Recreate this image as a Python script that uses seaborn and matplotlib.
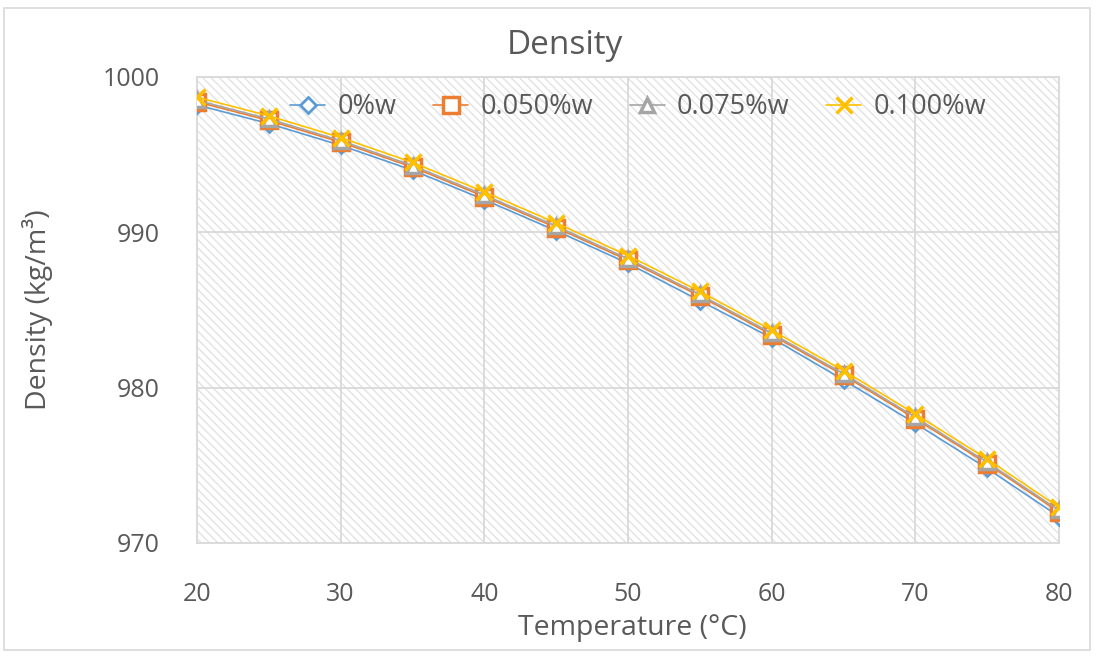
import matplotlib
matplotlib.use("Agg")
import matplotlib.pyplot as plt
import seaborn as sns
import pandas as pd
from matplotlib.patches import Rectangle

temperature = [20, 25, 30, 35, 40, 45, 50, 55, 60, 65, 70, 75, 80]
dens_0 = [998.2, 997.0, 995.6, 994.0, 992.1, 990.1, 988.0, 985.6, 983.2, 980.5, 977.7, 974.8, 971.7]
dens_050 = [998.4, 997.2, 995.8, 994.2, 992.3, 990.3, 988.2, 985.9, 983.4, 980.8, 978.0, 975.1, 972.0]
dens_075 = [998.5, 997.3, 995.9, 994.3, 992.4, 990.4, 988.3, 986.0, 983.5, 980.9, 978.1, 975.2, 972.1]
dens_100 = [998.7, 997.5, 996.1, 994.5, 992.6, 990.6, 988.5, 986.2, 983.7, 981.1, 978.3, 975.4, 972.3]
series_names = ["0%w", "0.050%w", "0.075%w", "0.100%w"]
series_vals = [dens_0, dens_050, dens_075, dens_100]

colors = ["#5B9BD5", "#ED7D31", "#A5A5A5", "#FFC000"]
markers = ["D", "s", "^", "x"]
msizes = [8, 11, 10, 12]
mews = [2.0, 2.5, 2.5, 2.5]

sns.set_theme(style="white")
plt.rcParams["font.family"] = ["Open Sans", "DejaVu Sans"]
plt.rcParams["hatch.linewidth"] = 0.9

fig = plt.figure(figsize=(10.98, 6.57), dpi=100)
ax = fig.add_axes([197/1098, 1-543/657, (1059-197)/1098, (543-77)/657])

# hatched plot area
ax.add_patch(Rectangle((0, 0), 1, 1, transform=ax.transAxes, facecolor="white",
                       hatch="\\\\\\\\", edgecolor="#e0e0e0", lw=0, zorder=0))

for name, vals, c, m, ms, mew in zip(series_names, series_vals, colors, markers, msizes, mews):
    df = pd.DataFrame({"T": temperature, "D": vals})
    sns.lineplot(data=df, x="T", y="D", ax=ax, color=c, lw=1.2, alpha=1.0,
                 marker=m, markersize=ms, markerfacecolor="white", markeredgecolor=c,
                 markeredgewidth=mew, label=name, zorder=3)

ax.set_xlim(20, 80)
ax.set_ylim(970, 1000)
ax.set_xticks(range(20, 81, 10))
ax.set_yticks([970, 980, 990, 1000])
ax.grid(True, color="#d9d9d9", lw=1.3)
ax.set_axisbelow(True)
for s in ax.spines.values():
    s.set_color("#d9d9d9")
    s.set_linewidth(1.3)
ax.tick_params(axis="x", length=0, pad=28, labelsize=18, labelcolor="#595959")
ax.tick_params(axis="y", length=0, pad=27, labelsize=18, labelcolor="#595959")
ax.set_xlabel("")
ax.set_ylabel("")

fig.text(565/1098, 1-45/657, "Density", ha="center", va="center", fontsize=24, color="#595959")
fig.text(632/1098, 1-628/657, "Temperature (°C)", ha="center", va="center", fontsize=20.5, color="#595959")
fig.text(38/1098, 1-310/657, "Density (kg/m³)", ha="center", va="center", rotation=90,
         fontsize=20.5, color="#595959")

leg = ax.legend(loc="center left", bbox_to_anchor=((290-197)/862, (543-107)/466), ncol=4,
                frameon=False, fontsize=19.5, handlelength=1.3, columnspacing=1.35,
                handletextpad=0.45, borderaxespad=0, borderpad=0)
for t in leg.get_texts():
    t.set_color("#595959")

fig.patches.append(Rectangle((4/1098, 1-650/657), 1086/1098, 642/657, transform=fig.transFigure,
                             fill=False, edgecolor="#d9d9d9", lw=1.2))

fig.savefig("out.png", dpi=100)
